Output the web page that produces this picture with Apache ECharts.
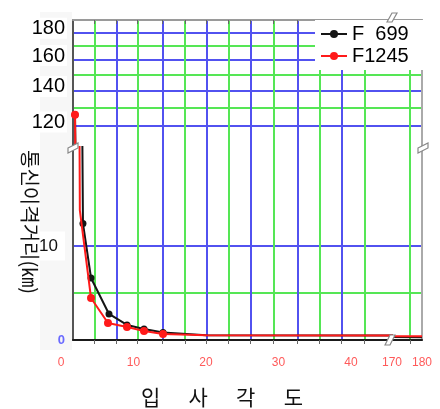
<!DOCTYPE html>
<html><head><meta charset="utf-8">
<script src="https://cdn.jsdelivr.net/npm/echarts@6/dist/echarts.min.js"></script>
<style>html,body{margin:0;padding:0;background:#fff}#c{width:440px;height:409px}</style>
</head><body><div id="c"></div>
<script>
// ---- data ----
const seriesNames = ['F  699', 'F1245'];
const f699X  = [1.93, 3.03, 4.14, 6.62, 9.1, 11.45, 14.07, 20, 180];
const f699Y  = [126, 12.4, 6.6, 2.77, 1.6, 1.17, 0.8, 0.5, 0.3];
const f1245X = [1.93, 2.6, 4.14, 6.48, 9.1, 11.45, 14.07, 20, 180];
const f1245Y = [126, 13.8, 4.47, 1.81, 1.38, 0.96, 0.64, 0.5, 0.4];
const f699NoMarker = [7, 8];
const f1245NoMarker = [1, 7, 8];
// ---- tick labels / grid-line values ----
const xTickLabelsNear = [0, 10, 20, 30, 40];
const xTickLabelsFar = [170, 180];
const yTickLabelsHigh = [120, 140, 160, 180];
const yTickLabelsLow = [0, 10];
const yGridHigh = [120, 130, 140, 150, 160, 170, 180];
const yGridLow = [5, 10];
const xGridNear = [4.59, 7.68, 10.52, 14.03, 17.10, 20.10, 23.08, 26.17, 29.28, 32.65, 35.63, 38.72, 41.83];
const xGridFar = [176];
const xTitle = '입      사      각      도';
const yTitle = '통신이격거리(㎞)';

const GREEN = '#55e655', BLUE = '#5252f0';
const NUM_FONT = 'Liberation Sans';
const KR_FONT = 'Noto Sans CJK KR';

const xNear = { min: 1.655, max: 45.655 };
const xFar = { min: 170, max: 180 };
const yHigh = { min: 109.6, max: 189.9 };
const yLow = { min: 0, max: 20.53 };

function xAx(grid, range, pos, lineColor, lineW, tickVals, tickInside, gridColors, labels) {
  return {
    type: 'value', gridIndex: grid, position: pos, min: range.min, max: range.max,
    axisLine: { show: !!lineColor, onZero: false, lineStyle: { color: lineColor || '#000', width: lineW } },
    axisTick: { show: !!tickVals, customValues: tickVals || undefined, inside: tickInside, length: 4, lineStyle: { color: '#666', width: 1 } },
    splitLine: { show: !!gridColors, showMinLine: true, showMaxLine: true, lineStyle: { color: gridColors || '#ccc', width: 2 } },
    axisLabel: labels ? { show: true, customValues: labels, color: '#ff5a5a', fontSize: 12, fontFamily: NUM_FONT, margin: 17 } : { show: false }
  };
}
function yAx(grid, range, type, pos, lineColor, gridVals, gridColors, labelCfg) {
  return {
    type: type, gridIndex: grid, position: pos, min: range.min, max: range.max,
    axisLine: { show: true, onZero: false, lineStyle: { color: lineColor, width: 2 } },
    axisTick: { show: false, customValues: gridVals },
    splitLine: { show: true, showMinLine: true, showMaxLine: true, lineStyle: { color: gridColors, width: 2 } },
    axisLabel: labelCfg || { show: false }
  };
}
function line(name, xs, ys, noMarker, color, size, xi, yi, z) {
  return {
    type: 'line', name: name, xAxisIndex: xi, yAxisIndex: yi, z: z,
    data: xs.map((x, i) => noMarker.includes(i) ? { value: [x, ys[i]], symbol: 'none' } : [x, ys[i]]),
    symbol: 'circle', symbolSize: size, showSymbol: true, showAllSymbol: true,
    lineStyle: { color: color, width: 2 }, itemStyle: { color: color },
    clip: true, animation: false
  };
}

const chart = echarts.init(document.getElementById('c'), null, { renderer: 'canvas' });
const gridBase = { outerBoundsMode: 'none', containLabel: false, show: false };
const option = {
  animation: false,
  backgroundColor: '#fff',
  grid: [
    Object.assign({ left: 73, top: 20, width: 319, height: 127 }, gridBase),
    Object.assign({ left: 73, top: 147, width: 319, height: 193 }, gridBase),
    Object.assign({ left: 392, top: 20, width: 30, height: 127 }, gridBase),
    Object.assign({ left: 392, top: 147, width: 30, height: 193 }, gridBase),
    Object.assign({ left: 61, top: 147, width: 331, height: 193 }, gridBase)
  ],
  xAxis: [
    xAx(0, xNear, 'top', '#9a9a9a', 2, xGridNear, true, [GREEN, BLUE], null),
    xAx(1, xNear, 'bottom', '#1a1a1a', 2, xGridNear, false, [GREEN, BLUE], null),
    xAx(2, xFar, 'top', '#9a9a9a', 2, xGridFar, true, [GREEN], null),
    xAx(3, xFar, 'bottom', '#1a1a1a', 2, xGridFar, false, [GREEN], xTickLabelsFar),
    xAx(4, { min: 0, max: 45.655 }, 'bottom', null, 0, null, false, null, xTickLabelsNear)
  ],
  yAxis: [
    yAx(0, yHigh, 'log', 'left', '#555', yGridHigh, [BLUE, GREEN], {
      show: true, customValues: yTickLabelsHigh, color: '#000', fontSize: 20, fontFamily: NUM_FONT,
      margin: 6, padding: [0, 0, 8, 0],
      formatter: v => '{a|' + v + '}',
      rich: { a: { fontSize: 20, fontFamily: NUM_FONT, color: '#000', backgroundColor: '#fff', padding: [1, 2, 0, 2] } }
    }),
    yAx(1, yLow, 'value', 'left', '#555', yGridLow, [GREEN, BLUE], {
      show: true, customValues: yTickLabelsLow, margin: 8,
      formatter: v => v === 0 ? '{z|0}' : '{t|' + v + '}',
      rich: {
        z: { fontSize: 13, fontWeight: 'bold', color: '#6a6aff', fontFamily: NUM_FONT },
        t: { fontSize: 17, color: '#111', fontFamily: NUM_FONT, backgroundColor: '#fff', padding: [6, 7, 6, 4] }
      }
    }),
    yAx(2, yHigh, 'log', 'right', '#aaa', yGridHigh, [BLUE, GREEN], null),
    yAx(3, yLow, 'value', 'right', '#aaa', yGridLow, [GREEN, BLUE], null),
    { type: 'value', gridIndex: 4, show: false, min: 0, max: 1 }
  ],
  legend: {
    orient: 'vertical', left: 315, top: 20, itemWidth: 26, itemHeight: 10, itemGap: 2,
    padding: [4, 15, 4, 5], backgroundColor: '#fff', data: seriesNames,
    textStyle: { fontSize: 20, color: '#000', fontFamily: NUM_FONT }, z: 10
  },
  graphic: [
    { type: 'rect', z: -10, silent: true, shape: { x: 40, y: 12, width: 32, height: 338 }, style: { fill: '#f7f7f7' } },
    // break marks
    { type: 'polygon', z: 100, silent: true, shape: { points: [[387, 22], [392, 13], [397, 13], [392, 22]] }, style: { fill: '#fff', stroke: '#888', lineWidth: 1.2 } },
    { type: 'polygon', z: 100, silent: true, shape: { points: [[385, 345], [390, 335], [395, 335], [390, 345]] }, style: { fill: '#fff', stroke: '#888', lineWidth: 1.2 } },
    { type: 'polygon', z: 100, silent: true, shape: { points: [[68, 148], [78, 143], [78, 148], [68, 153]] }, style: { fill: '#fff', stroke: '#888', lineWidth: 1.2 } },
    { type: 'polygon', z: 100, silent: true, shape: { points: [[418, 148], [428, 143], [428, 148], [418, 153]] }, style: { fill: '#fff', stroke: '#888', lineWidth: 1.2 } },
    { type: 'text', z: 100, silent: true, x: 30, y: 222, rotation: -Math.PI / 2,
      style: { text: yTitle, font: '20px "' + KR_FONT + '"', fill: '#111', align: 'center', verticalAlign: 'middle' } },
    { type: 'text', z: 100, silent: true, x: 222, y: 397,
      style: { text: xTitle, font: '21px "' + KR_FONT + '"', fill: '#111', align: 'center', verticalAlign: 'middle' } }
  ],
  series: [
    line(seriesNames[0], f699X, f699Y, f699NoMarker, '#151515', 7, 0, 0, 3),
    line(seriesNames[0], f699X, f699Y, f699NoMarker, '#151515', 7, 1, 1, 3),
    line(seriesNames[0], f699X, f699Y, f699NoMarker, '#151515', 7, 3, 3, 3),
    line(seriesNames[1], f1245X, f1245Y, f1245NoMarker, '#ff1a1a', 8, 0, 0, 4),
    line(seriesNames[1], f1245X, f1245Y, f1245NoMarker, '#ff1a1a', 8, 1, 1, 4),
    line(seriesNames[1], f1245X, f1245Y, f1245NoMarker, '#ff1a1a', 8, 3, 3, 4)
  ]
};
chart.setOption(option);
</script></body></html>
